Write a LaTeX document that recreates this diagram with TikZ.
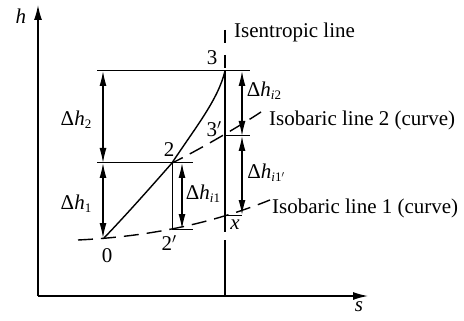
\documentclass[tikz,border=0pt]{standalone}
\usepackage{fontspec}
\setmainfont{Liberation Serif}
\usetikzlibrary{arrows.meta}
\begin{document}
\begin{tikzpicture}[x=1pt,y=-1pt,
  txt/.style={inner sep=0pt,font=\fontsize{21}{24}\selectfont},
  axis/.style={line width=1.4pt,-{Latex[length=15pt,width=8pt]}},
  guide/.style={line width=1pt},
  curvel/.style={line width=1.4pt},
  dashl/.style={line width=1.4pt,dash pattern=on 15pt off 8pt},
  dim/.style={line width=1.4pt,{Latex[length=15pt,width=7pt]}-{Latex[length=15pt,width=7pt]}}]
\useasboundingbox (0,0) rectangle (464,321);
% axes
\coordinate (O) at (38,296);
\coordinate (ytop) at (38,5);
\coordinate (xend) at (368,296);
\draw[axis] (O) -- (ytop);
\draw[axis] (O) -- (xend);
\node[txt] (hlab) at (21,16) {\textit{h}};
\node[txt] (slab) at (359,307) {\textit{s}};
% points
\coordinate (p0) at (104,238);
\coordinate (p2) at (172,163);
\coordinate (p3) at (225,71);
\coordinate (p2p) at (172,229);
\coordinate (p3p) at (225,136);
\coordinate (px) at (225,215);
% isentropic line
\coordinate (istop) at (225,30);
\coordinate (isbot) at (225,296);
\coordinate (isb2) at (225,245);
\draw[curvel,dash pattern=on 13pt off 12pt] (istop) -- (p3);
\draw[curvel] (p3) -- (px);
\draw[curvel,dash pattern=on 17pt off 8pt] (px) -- (isb2);
\draw[curvel] (isb2) -- (isbot);
% horizontal guides
\coordinate (g3a) at (97,71);  \coordinate (g3b) at (250,71);
\coordinate (g2a) at (97,163); \coordinate (g2b) at (193,163);
\coordinate (g2pb) at (193,229);
\coordinate (g3pb) at (250,136);
\coordinate (gxb) at (242,215);
\draw[guide] (g3a) -- (g3b);
\draw[guide] (g2a) -- (g2b);
\draw[guide] (p2p) -- (g2pb);
\draw[guide] (p3p) -- (g3pb);
\draw[guide] (px) -- (gxb);
\draw[guide] (p2) -- (p2p);
% process curves
\draw[curvel] (p0) .. controls (127,214) and (150,188) .. (p2);
\draw[curvel] (p2) .. controls (195,128) and (218,100) .. (p3);
% isobaric lines
\coordinate (ib1s) at (78,240);
\coordinate (ib1e) at (270,200);
\coordinate (ib2e) at (261,112);
\draw[dashl] (ib1s) .. controls (160,236) and (220,220) .. (ib1e);
\draw[dashl,dash phase=3pt] (p2) .. controls (195,152) and (240,126) .. (ib2e);
% dimension arrows
\coordinate (d2t) at (103,71);  \coordinate (d2b) at (103,163);
\coordinate (d1b) at (103,238);
\coordinate (di1t) at (182,163); \coordinate (di1b) at (182,229);
\coordinate (di2t) at (242,71);  \coordinate (di2b) at (242,136);
\coordinate (di1pb) at (242,215);
\draw[dim] (d2t) -- (d2b);
\draw[dim] (d2b) -- (d1b);
\draw[dim] (di1t) -- (di1b);
\draw[dim] (di2t) -- (di2b);
\draw[dim] (di2b) -- (di1pb);
% labels
\node[txt] (l3) at (212,58) {3};
\node[txt] (l2) at (169,150) {2};
\node[txt] (l0) at (107,256) {0};
\node[txt] (l2p) at (169,243) {2$'$};
\node[txt] (l3p) at (214,129) {3$'$};
\node[txt] (lx) at (235,225) {\textit{x}};
\node[txt] (dh2) at (76,120) {Δ\textit{h}\raisebox{-0.35ex}{\fontsize{13}{14}\selectfont 2}};
\node[txt] (dh1) at (76,204) {Δ\textit{h}\raisebox{-0.35ex}{\fontsize{13}{14}\selectfont 1}};
\node[txt] (dhi1) at (203,194) {Δ\textit{h}\raisebox{-0.35ex}{\fontsize{13}{14}\selectfont\textit{i}1}};
\node[txt] (dhi2) at (264,91) {Δ\textit{h}\raisebox{-0.35ex}{\fontsize{13}{14}\selectfont\textit{i}2}};
\node[txt] (dhi1p) at (266,173) {Δ\textit{h}\raisebox{-0.35ex}{\fontsize{13}{14}\selectfont\textit{i}1$'$}};
\node[txt,anchor=west] (isen) at (234,32) {Isentropic line};
\node[txt,anchor=west] (iso2) at (269,120) {Isobaric line 2 (curve)};
\node[txt,anchor=west] (iso1) at (272,208) {Isobaric line 1 (curve)};
\end{tikzpicture}
\end{document}
